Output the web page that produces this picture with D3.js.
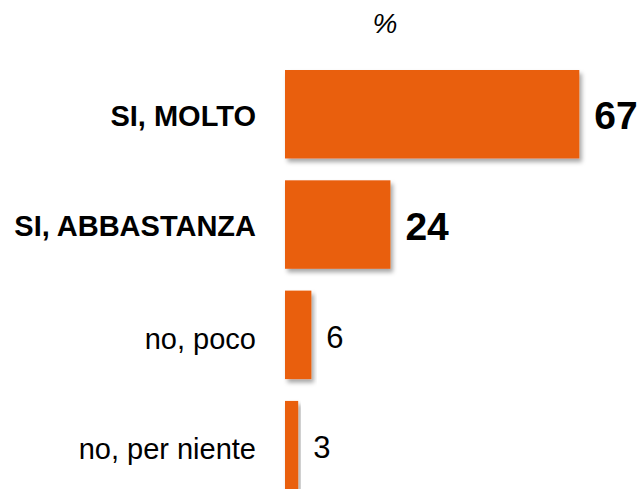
<!DOCTYPE html>
<html>
<head>
<meta charset="utf-8">
<script src="https://cdn.jsdelivr.net/npm/d3@7"></script>
<style>
  html, body { margin: 0; padding: 0; background: #fff; }
  svg { display: block; }
</style>
</head>
<body>
<script>
const categories = ["SI, MOLTO", "SI, ABBASTANZA", "no, poco", "no, per niente"];
const values = [67, 24, 6, 3];
const emphasis = [true, true, false, false];
const unitLabel = "%";

const W = 640, H = 489;
const svg = d3.select("body").append("svg").attr("width", W).attr("height", H);

const defs = svg.append("defs");
const f = defs.append("filter").attr("id", "shadow")
  .attr("x", "-10%").attr("y", "-10%").attr("width", "130%").attr("height", "130%");
f.append("feDropShadow").attr("dx", 2.5).attr("dy", 3.5).attr("stdDeviation", 2)
  .attr("flood-color", "#000").attr("flood-opacity", 0.35);

const x = d3.scaleLinear().domain([0, 67]).range([285, 579.3]);
const y = d3.scaleBand().domain(categories).range([70, 489.4]).paddingInner(0.198).paddingOuter(0);

const data = categories.map((c, i) => ({ c, v: values[i], e: emphasis[i] }));
const font = "Liberation Sans, Arial, sans-serif";

svg.append("text")
  .attr("x", 385).attr("y", 33)
  .attr("text-anchor", "middle")
  .style("font-family", font)
  .style("font-style", "italic").style("font-size", "28px").attr("fill", "#000")
  .text(unitLabel);

svg.append("g").selectAll("rect").data(data).join("rect")
  .attr("x", x(0))
  .attr("y", d => y(d.c))
  .attr("width", d => x(d.v) - x(0))
  .attr("height", y.bandwidth())
  .attr("fill", "#E95E10")
  .attr("filter", "url(#shadow)");

svg.append("g").selectAll("text").data(data).join("text")
  .attr("x", 256)
  .attr("y", d => y(d.c) + y.bandwidth() / 2 + (d.e ? 11.5 : 14))
  .attr("text-anchor", "end")
  .style("font-family", font)
  .style("font-weight", d => d.e ? "bold" : "normal")
  .style("font-size", "29px")
  .attr("fill", "#000")
  .text(d => d.c);

svg.append("g").selectAll("text").data(data).join("text")
  .attr("x", d => x(d.v) + 15)
  .attr("y", d => y(d.c) + y.bandwidth() / 2 + (d.e ? 15 : 13))
  .attr("text-anchor", "start")
  .style("font-family", font)
  .style("font-weight", d => d.e ? "bold" : "normal")
  .style("font-size", d => d.e ? "39px" : "31px")
  .attr("fill", "#000")
  .text(d => d.v);
</script>
</body>
</html>
